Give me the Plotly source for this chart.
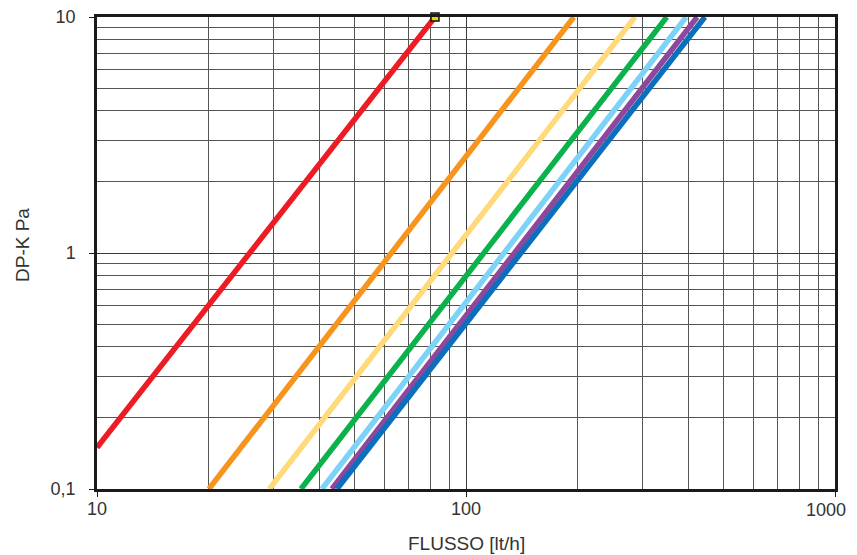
import plotly.graph_objects as go

# Series: flow [lt/h] vs pressure drop [kPa] (straight lines on log-log)
names = ["rosso", "arancio", "giallo", "verde", "azzurro", "viola", "blu"]
colors = ["#ed1c24", "#f7941d", "#ffd97a", "#0bb14b", "#7dd3f7", "#8e479c", "#0a6fbd"]
flow_start = [10, 20.1, 29.3, 35.7, 40.7, 43.3, 44.7]
dp_start = [0.15, 0.1, 0.1, 0.1, 0.1, 0.1, 0.1]
flow_end = [82.4, 196, 287, 350, 395, 423, 444]
dp_end = [10, 10, 10, 10, 10, 10, 10]

marker_flow = [82.4]
marker_dp = [10]

x_tickvals = [10, 100, 1000]
x_ticktext = ["10", "100", "1000"]
y_tickvals = [0.1, 1, 10]
y_ticktext = ["0,1", "1", "10"]

x_title = "FLUSSO [lt/h]"
y_title = "DP-K Pa"

font_family = "Liberation Sans, Arial, sans-serif"
text_color = "#333"

fig = go.Figure()
for n, c, x0, y0, x1, y1 in zip(names, colors, flow_start, dp_start, flow_end, dp_end):
    fig.add_trace(go.Scatter(x=[x0, x1], y=[y0, y1], mode="lines", name=n,
                             line=dict(color=c, width=5.5), hoverinfo="x+y"))

fig.add_trace(go.Scatter(x=marker_flow, y=marker_dp, mode="markers",
                         marker=dict(symbol="square", size=8, color="#e8d400",
                                     line=dict(color="#111", width=1.5)),
                         cliponaxis=False, showlegend=False))

axis_common = dict(
    type="log", automargin=False, ticklabeloverflow="allow",
    showline=True, linecolor="#1a1a1a", linewidth=2.5, mirror=True,
    showgrid=True, gridcolor="#3a3a3a", gridwidth=1,
    ticks="outside", ticklen=5, tickcolor="#1a1a1a", tickwidth=1,
    tickfont=dict(family=font_family, size=18, color=text_color),
    zeroline=False,
    minor=dict(dtick="D1", showgrid=True, gridcolor="#555", gridwidth=1, ticks=""),
)

# last x tick label is drawn as an annotation so it stays inside the window
fig.update_xaxes(**axis_common, range=[1, 3], tickvals=x_tickvals,
                 ticktext=x_ticktext[:-1] + [""], ticklabelstandoff=-3)
fig.update_yaxes(**axis_common, range=[-1, 1], tickvals=y_tickvals, ticktext=y_ticktext,
                 ticklabelstandoff=10)

import math
fig.add_annotation(text=x_ticktext[-1], xref="x", yref="paper",
                   x=math.log10(x_tickvals[-1]), y=0,
                   xanchor="right", yanchor="middle", xshift=13, yshift=-21,
                   showarrow=False,
                   font=dict(family=font_family, size=18, color=text_color))

fig.add_annotation(text=x_title, xref="paper", yref="paper", x=0.5, y=0,
                   xanchor="center", yanchor="middle", yshift=-54, showarrow=False,
                   font=dict(family=font_family, size=19, color=text_color))
fig.add_annotation(text=y_title, xref="paper", yref="paper", x=0, y=0.5,
                   xanchor="center", yanchor="middle", xshift=-75, yshift=8,
                   textangle=-90, showarrow=False,
                   font=dict(family=font_family, size=19, color=text_color))

# the page body has an 8px margin, so the figure is sized to fit the window
fig.update_layout(
    width=849, height=547,
    margin=dict(l=89, r=22, t=9, b=66),
    paper_bgcolor="white", plot_bgcolor="white",
    showlegend=False,
)

fig.write_html("out.html")
